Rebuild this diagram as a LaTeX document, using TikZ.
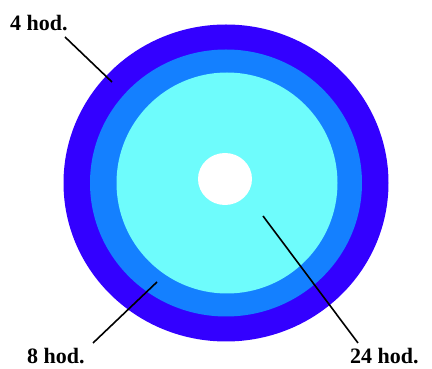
\documentclass[tikz,border=0pt]{standalone}
\usepackage{fontspec}
\setmainfont{Liberation Serif}
\usetikzlibrary{shapes.geometric}

\definecolor{ringdark}{RGB}{51,0,255}
\definecolor{ringmid}{RGB}{20,128,255}
\definecolor{ringlight}{RGB}{110,252,252}

\tikzset{
  ring/.style={ellipse, draw=none, inner sep=0pt},
  hodlabel/.style={anchor=base west, inner sep=0pt, font=\bfseries\fontsize{22}{22}\selectfont},
  pointer/.style={black, line width=1.6pt}
}

\begin{document}
\begin{tikzpicture}[x=1pt,y=1pt]
    \useasboundingbox (0,0) rectangle (432,369);

    \node[ring, fill=ringdark, minimum width=325pt, minimum height=317pt] (outer) at (226,186) {};
    \node[ring, fill=ringmid, minimum width=272pt, minimum height=267pt] (middle) at (226,186) {};
    \node[ring, fill=ringlight, minimum width=221pt, minimum height=221pt] (inner) at (227,186) {};
    \node[ring, fill=white, minimum width=54pt, minimum height=52pt] (hole) at (225,190) {};

    \node[hodlabel] (lbl4) at (10,338) {4 hod.};
    \node[hodlabel] (lbl8) at (27,5) {8 hod.};
    \node[hodlabel] (lbl24) at (350,5) {24 hod.};

    \coordinate (from4) at (65,332);
    \coordinate (to4) at (112,287);
    \coordinate (from8) at (93,26);
    \coordinate (to8) at (157,87);
    \coordinate (from24) at (358,26);
    \coordinate (to24) at (263,153);

    \draw[pointer] (from4) -- (to4);
    \draw[pointer] (from8) -- (to8);
    \draw[pointer] (from24) -- (to24);
\end{tikzpicture}
\end{document}
